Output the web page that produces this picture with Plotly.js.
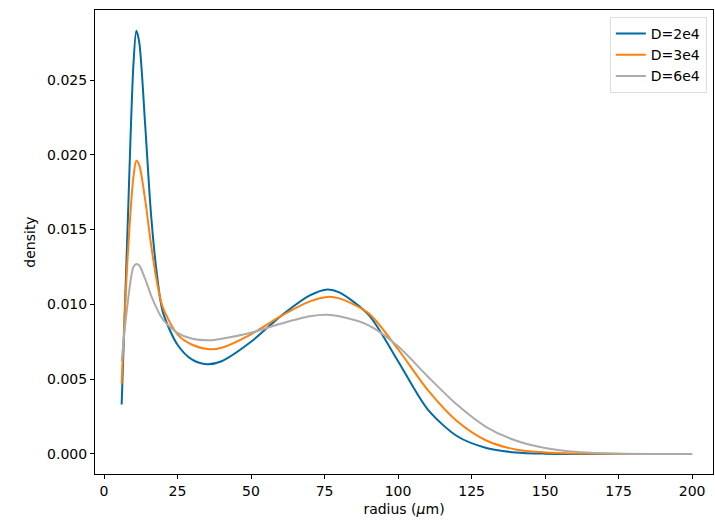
<!DOCTYPE html>
<html><head><meta charset="utf-8">
<script src="https://cdn.plot.ly/plotly-3.0.1.min.js"></script>
<style>body{margin:0}#chart{width:715px;height:529px}</style>
</head><body><div id="chart"></div>
<script>
/* radius samples (um) and density per D */
const X_D2 = [6, 8, 10, 11, 12, 14, 16, 18, 20, 25, 30, 35, 40, 50, 60, 70, 76, 80, 90, 100, 110, 120, 130, 140, 150, 170, 200];
const Y_D2 = [0.0033, 0.015, 0.026, 0.0283, 0.0275, 0.022, 0.016, 0.012, 0.0095, 0.0073, 0.0063, 0.0060, 0.0062, 0.0075, 0.0092, 0.0106, 0.0110, 0.0108, 0.0093, 0.0062, 0.0030, 0.0012, 0.0004, 0.0001, 0.00002, 0, 0];
const X_D3 = [6, 8, 10, 11, 12, 14, 16, 18, 20, 25, 30, 36, 40, 50, 60, 70, 76, 80, 90, 100, 110, 120, 130, 140, 150, 160, 180, 200];
const Y_D3 = [0.0047, 0.013, 0.0185, 0.0196, 0.0193, 0.017, 0.014, 0.0115, 0.0098, 0.0080, 0.0073, 0.0070, 0.0071, 0.0080, 0.0092, 0.0102, 0.0105, 0.0104, 0.0094, 0.0070, 0.0043, 0.0022, 0.0009, 0.0003, 0.0001, 0.00003, 0, 0];
const X_D6 = [6, 8, 10, 11, 12, 14, 16, 18, 20, 25, 30, 36, 40, 50, 60, 70, 76, 80, 90, 100, 110, 120, 130, 140, 150, 160, 170, 185, 200];
const Y_D6 = [0.0062, 0.010, 0.0125, 0.0127, 0.0126, 0.0117, 0.0106, 0.0097, 0.0090, 0.0081, 0.0077, 0.0076, 0.0077, 0.0081, 0.0087, 0.0092, 0.0093, 0.0092, 0.0086, 0.0072, 0.0052, 0.0033, 0.0018, 0.0009, 0.0004, 0.00015, 0.00005, 0, 0];

const mk = (x, y, name, color) => ({
  x, y, name, mode: 'lines', line: { color, width: 2, shape: 'spline', smoothing: 0.8 }
});

const traces = [
  mk(X_D2, Y_D2, 'D=2e4', '#006BA4'),
  mk(X_D3, Y_D3, 'D=3e4', '#FF800E'),
  mk(X_D6, Y_D6, 'D=6e4', '#ABABAB')
];

const axisBase = {
  showgrid: false, zeroline: false, showline: true, mirror: true,
  linecolor: '#000', linewidth: 1, ticks: 'outside', ticklen: 4, tickcolor: '#000',
  tickfont: { size: 14, color: '#000' }
};

const layout = {
  width: 715, height: 529,
  margin: { l: 95, r: 2, t: 10, b: 55 },
  paper_bgcolor: '#fff', plot_bgcolor: '#fff',
  font: { family: 'DejaVu Sans', color: '#000' },
  xaxis: Object.assign({}, axisBase, {
    range: [-3.06, 207.1], tickvals: [0, 25, 50, 75, 100, 125, 150, 175, 200],
    title: { text: 'radius (<i>μ</i>m)', font: { size: 14 }, standoff: 6 }
  }),
  yaxis: Object.assign({}, axisBase, {
    range: [-0.00134, 0.02968], tickvals: [0, 0.005, 0.01, 0.015, 0.02, 0.025],
    tickformat: '.3f',
    title: { text: 'density', font: { size: 14 }, standoff: 8 }
  }),
  legend: {
    x: 0.99, y: 0.985, xanchor: 'right', yanchor: 'top',
    bgcolor: 'rgba(255,255,255,0.8)', bordercolor: '#ddd', borderwidth: 1,
    font: { size: 14 }
  },
  showlegend: true
};

Plotly.newPlot('chart', traces, layout, { displayModeBar: false, staticPlot: true });
</script></body></html>
